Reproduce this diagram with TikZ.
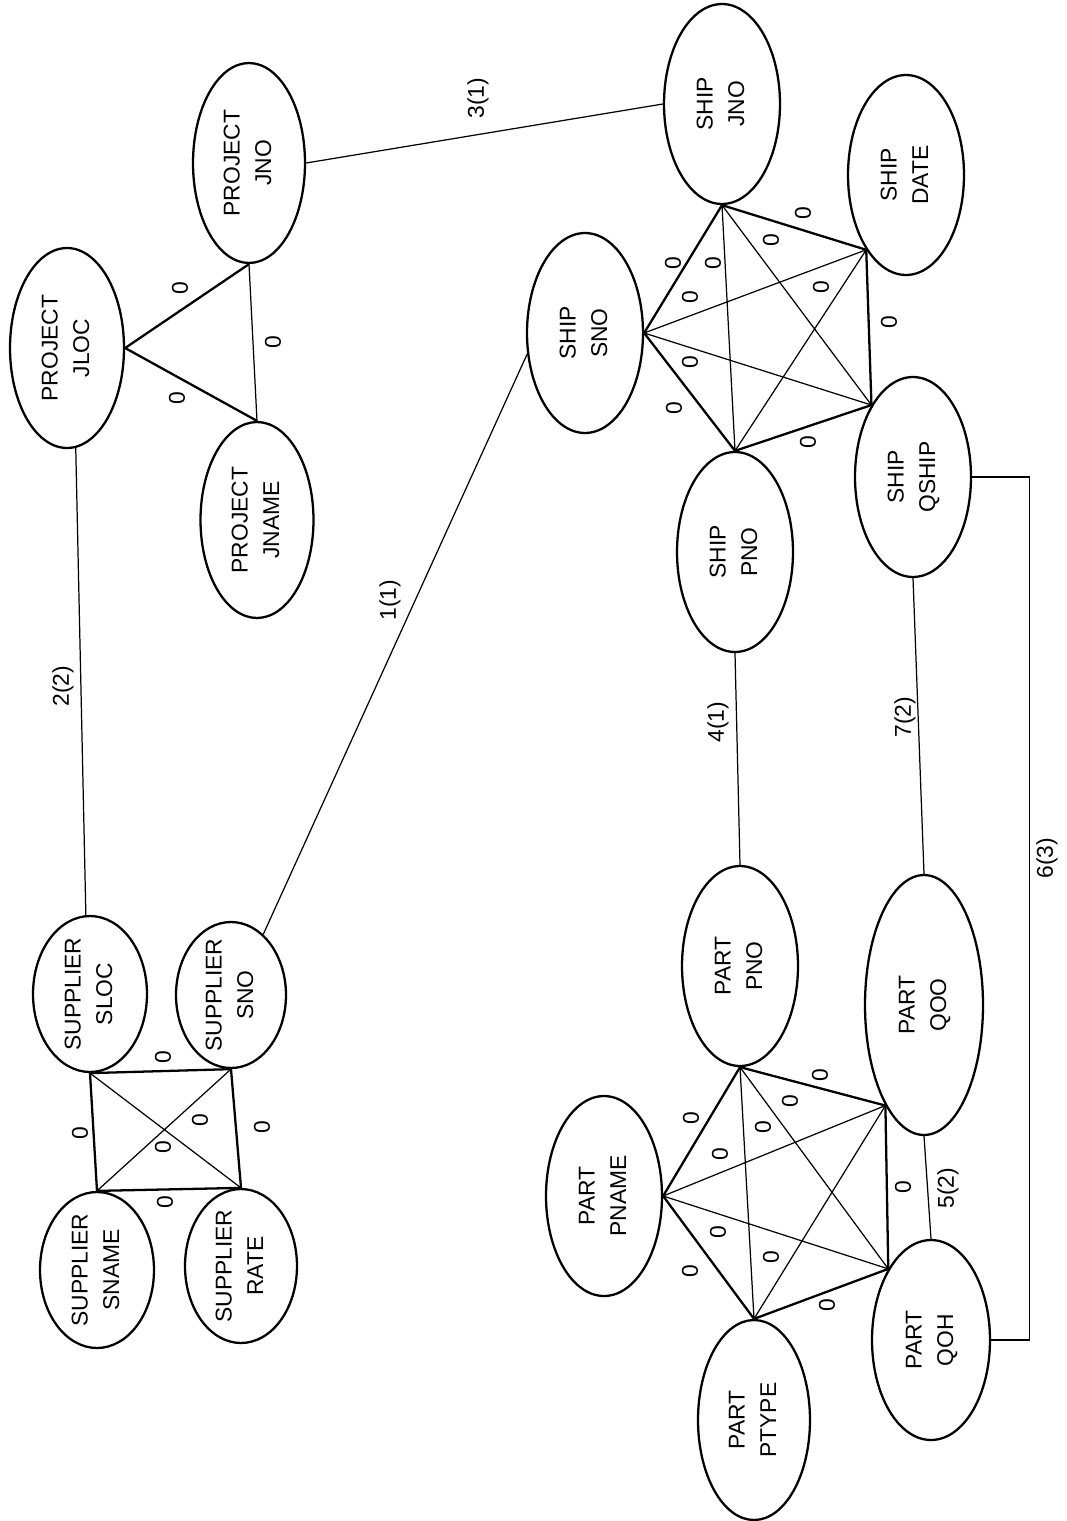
\documentclass[tikz,border=0pt]{standalone}
\usepackage{fontspec}
\setmainfont{Liberation Sans}
\usepackage{graphicx}
\usetikzlibrary{shapes.geometric}

\newcommand{\attr}[2]{\rotatebox{90}{\begin{tabular}{@{}c@{}}#1\\#2\end{tabular}}}

\begin{document}
\begin{tikzpicture}[x=0.02cm, y=-0.02cm,
      every node/.style={font=\fontsize{13}{18}\selectfont},
      attr/.style={ellipse, draw, line width=1.3pt, inner sep=-6pt,
                   minimum width=2.32cm, minimum height=4cm},
      supp/.style={attr, minimum width=2.28cm, minimum height=3.12cm},
      strong/.style={line width=1.3pt},
      faint/.style={line width=0.7pt},
      zero/.style={rotate=90, inner sep=1pt},
      rel/.style={rotate=90, inner sep=1pt},
    ]
      \useasboundingbox (0,0) rectangle (1067,1521);

      \node[supp] (sloc) at (90,994) {\attr{SUPPLIER}{SLOC}};
      \node[supp, minimum width=2.2cm, minimum height=2.92cm] (ssno) at (231,995) {\attr{SUPPLIER}{SNO}};
      \node[supp] (sname) at (97,1270) {\attr{SUPPLIER}{SNAME}};
      \node[supp, minimum width=2.24cm, minimum height=3.08cm] (rate) at (241,1266) {\attr{SUPPLIER}{RATE}};

      \node[attr, minimum width=2.28cm] (jloc) at (67,348) {\attr{PROJECT}{JLOC}};
      \node[attr, minimum width=2.24cm] (pjno) at (249,163) {\attr{PROJECT}{JNO}};
      \node[attr, minimum width=2.26cm, minimum height=3.92cm] (jname) at (257,520) {\attr{PROJECT}{JNAME}};

      \node[attr] (sjno) at (722,104) {\attr{SHIP}{JNO}};
      \node[attr] (date) at (906,175) {\attr{SHIP}{DATE}};
      \node[attr] (shsno) at (585,333) {\attr{SHIP}{SNO}};
      \node[attr] (shpno) at (735,552) {\attr{SHIP}{PNO}};
      \node[attr] (qship) at (913,477) {\attr{SHIP}{QSHIP}};

      \node[attr] (ppno) at (740,966) {\attr{PART}{PNO}};
      \node[attr] (pname) at (604,1196) {\attr{PART}{PNAME}};
      \node[attr, minimum width=2.24cm] (ptype) at (754,1420) {\attr{PART}{PTYPE}};
      \node[attr, minimum width=2.36cm] (qoh) at (931,1340) {\attr{PART}{QOH}};
      \node[attr, minimum width=2.36cm, minimum height=5.2cm] (qoo) at (924,1005) {\attr{PART}{QOO}};

      \draw[strong] (sloc.south) -- (ssno.south) -- (rate.north) -- (sname.north) -- cycle;
      \draw[faint] (sloc.south) -- (rate.north) (ssno.south) -- (sname.north);

      \draw[strong] (pjno.south) -- (jloc.east) -- (jname.north);
      \draw[faint] (pjno.south) -- (jname.north);

      \draw[strong] (sjno.south) -- (shsno.east) -- (shpno.north) -- (qship.120) -- (date.242) -- cycle;
      \draw[faint] (sjno.south) -- (shpno.north) (sjno.south) -- (qship.120)
        (shsno.east) -- (date.242) (shsno.east) -- (qship.120) (shpno.north) -- (date.242);

      \draw[strong] (ppno.south) -- (pname.east) -- (ptype.north) -- (qoh.121) -- (qoo.249) -- cycle;
      \draw[faint] (ppno.south) -- (ptype.north) (ppno.south) -- (qoh.121)
        (pname.east) -- (qoo.249) (pname.east) -- (qoh.121) (ptype.north) -- (qoo.249);

      \draw[faint] (jloc.275) -- (sloc.93);
      \draw[faint] (ssno.62) -- (shsno.200);
      \draw[faint] (pjno.east) -- (sjno.west);
      \draw[faint] (shpno.south) -- (ppno.north);
      \draw[faint] (qship.south) -- (qoo.north);
      \draw[faint] (qoo.south) -- (qoh.north);
      \draw[faint] (qship.east) -- ++(57,0) |- (qoh.east);

      \node[rel] (r22) at (63,686) {2(2)};
      \node[rel] (r11) at (390,600) {1(1)};
      \node[rel] (r31) at (478,98) {3(1)};
      \node[rel] (r41) at (718,722) {4(1)};
      \node[rel] (r72) at (905,717) {7(2)};
      \node[rel] (r52) at (948,1188) {5(2)};
      \node[rel] (r63) at (1047,858) {6(3)};

      \foreach \p [count=\i] in {(80,1133), (163,1057), (262,1127), (165,1202), (200,1120), (163,1147),
          (180,288), (177,398), (273,342),
          (673,263), (690,297), (713,263), (771,240), (803,213), (821,287), (889,322), (808,442), (690,362), (674,408),
          (691,1118), (720,1154), (763,1127), (790,1101), (820,1075), (718,1232), (690,1271), (771,1257), (903,1187), (827,1305)}
        \node[zero] (z\i) at \p {0};
    \end{tikzpicture}
\end{document}
